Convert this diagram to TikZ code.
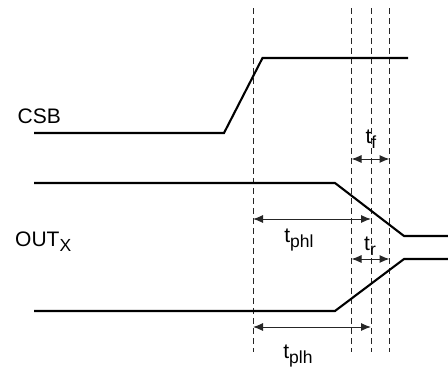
\documentclass[tikz,border=0pt]{standalone}
\usepackage{fontspec}
\setmainfont{Liberation Sans}
\usetikzlibrary{arrows.meta}
\newcommand{\lowtxt}[1]{\raisebox{-5pt}{\fontsize{17.5}{20}\selectfont #1}}
\tikzset{
 wave/.style={line width=2.1pt,line join=miter,line cap=butt,black},
 guide/.style={line width=0.9pt,dash pattern=on 6pt off 4pt,black!85},
 span/.style={line width=1pt,black!85,{Latex[length=10pt,width=8pt]}-{Latex[length=10pt,width=8pt]}},
 lab/.style={inner sep=0pt,font=\fontsize{21}{24}\selectfont,text=black}
}
\begin{document}
\begin{tikzpicture}[x=1pt,y=-1pt]
\useasboundingbox (0,0) rectangle (448,372);
% dashed guides
\foreach \n/\x in {a/253,b/351.5,c/371,d/389.5}{
 \coordinate (\n top) at (\x,8);
 \coordinate (\n bot) at (\x,352);
 \draw[guide] (\n top) -- (\n bot);
}
% waveforms
\coordinate (c0) at (34,133);\coordinate (c1) at (224,133);\coordinate (c2) at (262.5,58);\coordinate (c3) at (408,58);
\draw[wave] (c0) -- (c1) -- (c2) -- (c3);
\coordinate (f0) at (34,183);\coordinate (f1) at (335,183);\coordinate (f2) at (404,236);\coordinate (f3) at (448,236);
\draw[wave] (f0) -- (f1) -- (f2) -- (f3);
\coordinate (r0) at (34,311);\coordinate (r1) at (335,311);\coordinate (r2) at (404,259);\coordinate (r3) at (448,259);
\draw[wave] (r0) -- (r1) -- (r2) -- (r3);
% spans
\coordinate (tfl) at (351.5,159);\coordinate (tfr) at (389.5,159);
\coordinate (trl) at (351.5,259);\coordinate (trr) at (389.5,259);
\coordinate (phl) at (253,219);\coordinate (phr) at (371,219);
\coordinate (pll) at (253,327);\coordinate (plr) at (371,327);
\draw[span] (tfl) -- (tfr);
\draw[span] (trl) -- (trr);
\draw[span] (phl) -- (phr);
\draw[span] (pll) -- (plr);
% labels
\node[lab,anchor=base west] (csb) at (17.5,123) {CSB};
\node[lab,anchor=base west] (out) at (15,246) {OUT\lowtxt{X}};
\node[lab,anchor=base] (ltf) at (371,143) {t\lowtxt{f}};
\node[lab,anchor=base] (ltr) at (370,250) {t\lowtxt{r}};
\node[lab,anchor=base] (lphl) at (299,242) {t\lowtxt{phl}};
\node[lab,anchor=base] (lplh) at (298,358) {t\lowtxt{plh}};
\end{tikzpicture}
\end{document}
